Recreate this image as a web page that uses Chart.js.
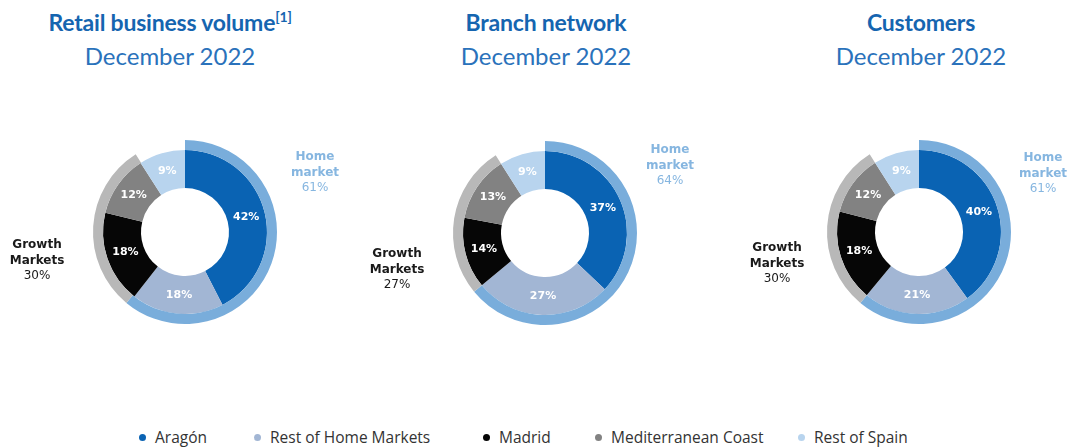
<!DOCTYPE html>
<html>
<head>
<meta charset="utf-8">
<script src="https://cdn.jsdelivr.net/npm/chart.js@4.4.1/dist/chart.umd.min.js"></script>
<style>
  html, body { margin: 0; padding: 0; background: #fff; }
  body { width: 1072px; height: 448px; position: relative; overflow: hidden; }
  .title { position: absolute; width: 360px; text-align: center; font-family: Lato, "Open Sans", sans-serif; color: #1565b0; white-space: nowrap; }
  .t1 { font-weight: 700; font-size: 23px; top: 8px; letter-spacing: -0.2px; }
  .t1 sup { font-size: 14px; vertical-align: 0; position: relative; top: -9px; }
  .t2 { font-weight: 400; font-size: 24px; top: 41px; color: #2a72bb; }
  .box { position: absolute; width: 365px; height: 270px; }
  .legend-item { position: absolute; top: 426px; font-family: "Open Sans", sans-serif; font-size: 15.5px; color: #333; white-space: nowrap; line-height: 22px; }
  .legend-item span.dot { display: inline-block; width: 7px; height: 7px; border-radius: 50%; margin-right: 9px; vertical-align: 2px; }
</style>
</head>
<body>
<script>
// ---- data ----
const categories = ['Aragón', 'Rest of Home Markets', 'Madrid', 'Mediterranean Coast', 'Rest of Spain'];
const retailValues = [42, 18, 18, 12, 9];
const branchValues = [37, 27, 14, 13, 9];
const customerValues = [40, 21, 18, 12, 9];
const groupNames = ['Home market', 'Growth Markets'];
const retailGroups = [61, 30];
const branchGroups = [64, 27];
const customerGroups = [61, 30];
const chartTitles = ['Retail business volume', 'Branch network', 'Customers'];
const chartTitleNotes = ['[1]', '', ''];
const chartSubtitle = 'December 2022';

// ---- styles ----
const segColors = ['#0a63b3', '#a2b6d4', '#060606', '#828282', '#b8d4ee'];
const groupColors = ['#79addb', '#b8b8b8'];
const groupTextColors = ['#86b6e0', '#1a1a1a'];
const layouts = [
  { cx: 185, cy: 232, tx: 170, home: [130, -75], growth: [-148, 13] },
  { cx: 545, cy: 233, tx: 546, home: [125, -83], growth: [-148, 21] },
  { cx: 919, cy: 232, tx: 921, home: [124, -74], growth: [-142, 16] }
];
const legendX = [139, 254, 483, 595, 798];

const seriesList = [
  { values: retailValues, groups: retailGroups },
  { values: branchValues, groups: branchGroups },
  { values: customerValues, groups: customerGroups }
];

const labelPlugin = {
  id: 'labels',
  afterDatasetsDraw(chart, args, opts) {
    const ctx = chart.ctx;
    const inner = chart.getDatasetMeta(1);
    ctx.save();
    ctx.textAlign = 'center';
    ctx.textBaseline = 'middle';
    ctx.fillStyle = '#ffffff';
    ctx.font = 'bold 11px "DejaVu Sans", sans-serif';
    inner.data.forEach((arc, i) => {
      const p = arc.tooltipPosition();
      ctx.fillText(chart.data.datasets[1].data[i] + '%', p.x, p.y);
    });
    const cx = (chart.chartArea.left + chart.chartArea.right) / 2;
    const cy = (chart.chartArea.top + chart.chartArea.bottom) / 2;
    const outer = chart.data.datasets[0];
    [opts.home, opts.growth].forEach((pos, g) => {
      const words = groupNames[g].split(' ');
      const x = cx + pos[0];
      let y = cy + pos[1];
      ctx.fillStyle = groupTextColors[g];
      ctx.font = 'bold 12px "DejaVu Sans", sans-serif';
      words.forEach(w => { ctx.fillText(w, x, y); y += 15.5; });
      ctx.font = '12px "DejaVu Sans", sans-serif';
      ctx.fillText(outer.data[g] + '%', x, y);
    });
    ctx.restore();
  }
};

seriesList.forEach((s, k) => {
  const L = layouts[k];
  const t1 = document.createElement('div');
  t1.className = 'title t1';
  t1.style.left = (L.tx - 180) + 'px';
  t1.innerHTML = chartTitles[k] + (chartTitleNotes[k] ? '<sup>' + chartTitleNotes[k] + '</sup>' : '');
  document.body.appendChild(t1);
  const t2 = document.createElement('div');
  t2.className = 'title t2';
  t2.style.left = (L.tx - 180) + 'px';
  t2.textContent = chartSubtitle;
  document.body.appendChild(t2);

  const box = document.createElement('div');
  box.className = 'box';
  box.style.left = (L.cx - 185) + 'px';
  box.style.top = (L.cy - 135) + 'px';
  const cv = document.createElement('canvas');
  box.appendChild(cv);
  document.body.appendChild(box);

  const rest = 100 - s.groups[0] - s.groups[1];
  new Chart(cv, {
    type: 'doughnut',
    data: {
      labels: categories,
      datasets: [
        { data: [s.groups[0], s.groups[1], rest], backgroundColor: [groupColors[0], groupColors[1], 'rgba(0,0,0,0)'], borderWidth: 0, weight: 10 },
        { data: s.values, backgroundColor: segColors, borderWidth: 0, weight: 38 }
      ]
    },
    options: {
      responsive: true,
      maintainAspectRatio: false,
      animation: false,
      cutout: 44,
      layout: { padding: { left: 93, right: 88, top: 43, bottom: 43 } },
      plugins: {
        legend: { display: false },
        tooltip: { enabled: false },
        labels: { home: L.home, growth: L.growth }
      }
    },
    plugins: [labelPlugin]
  });
});

categories.forEach((c, i) => {
  const d = document.createElement('div');
  d.className = 'legend-item';
  d.style.left = legendX[i] + 'px';
  d.innerHTML = '<span class="dot" style="background:' + segColors[i] + '"></span>' + c;
  document.body.appendChild(d);
});
</script>
</body>
</html>
